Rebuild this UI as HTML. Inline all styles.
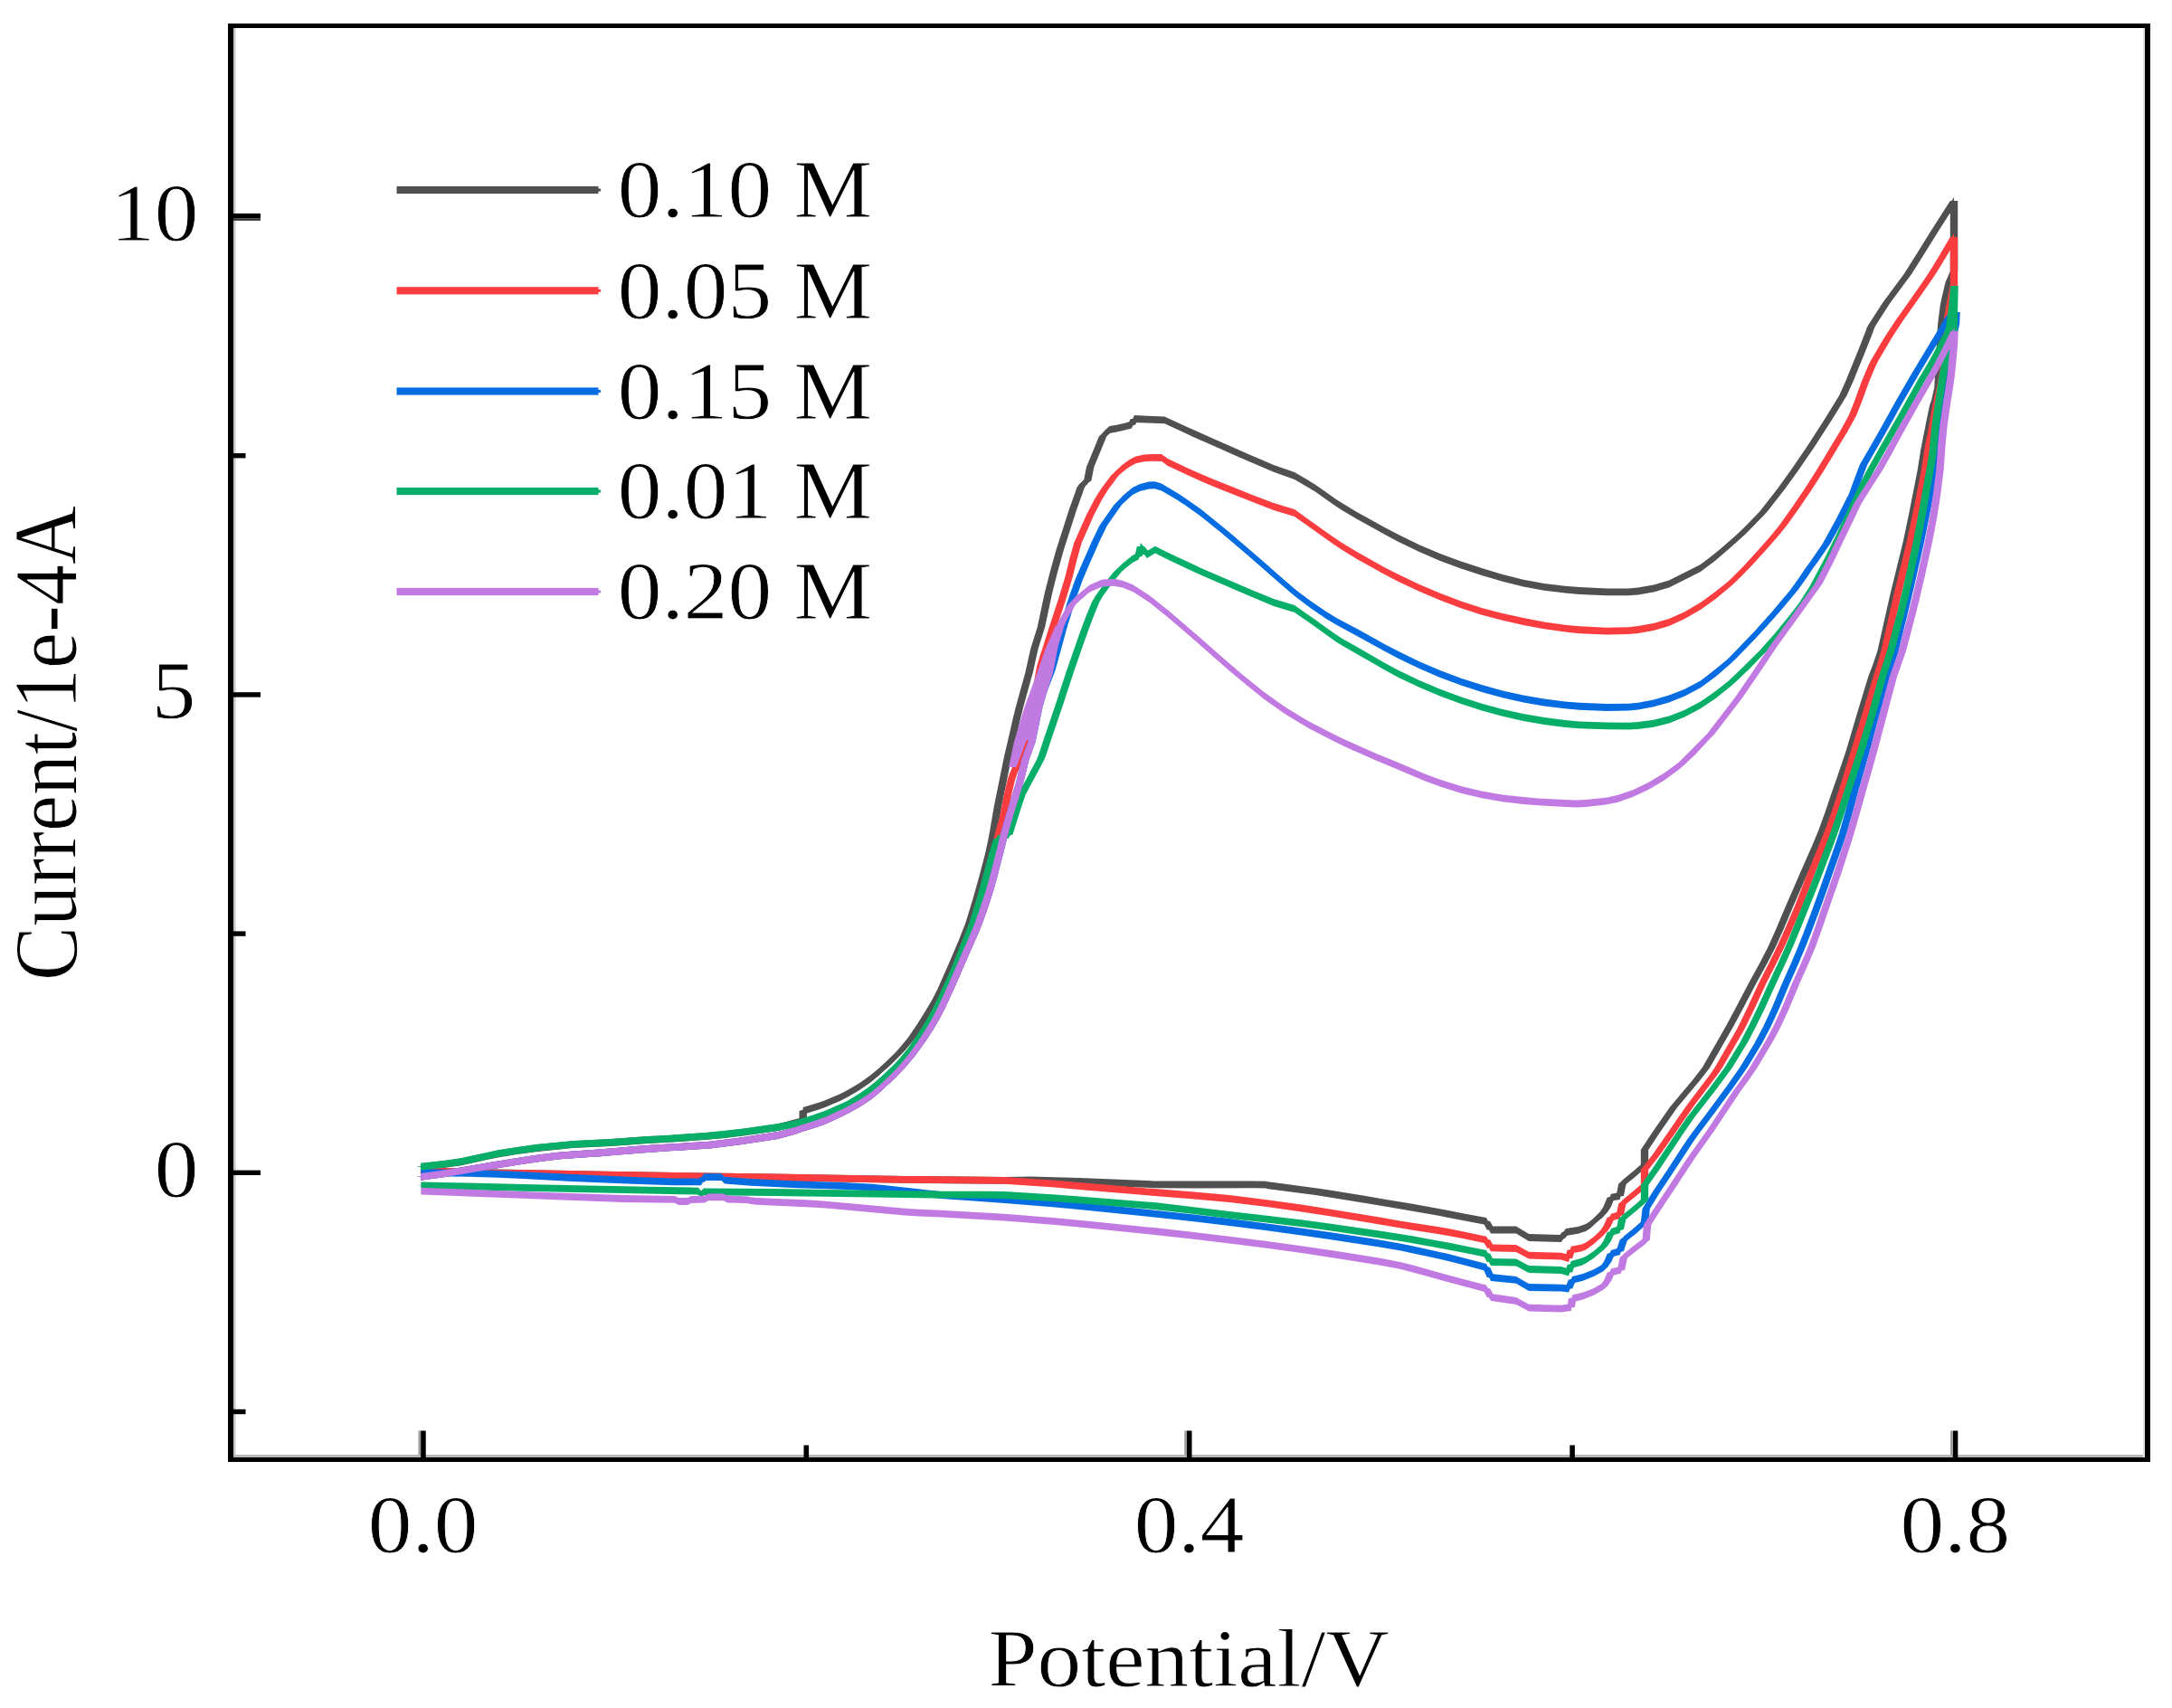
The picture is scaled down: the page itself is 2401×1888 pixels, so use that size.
<!DOCTYPE html>
<html lang="en"><head><meta charset="utf-8"><title>Cyclic voltammetry: Current/1e-4A vs Potential/V</title>
<style>html,body{margin:0;padding:0;background:#fff}body{width:2401px;height:1888px;overflow:hidden}svg{display:block;filter:blur(.6px)}text{font-family:"Liberation Serif",serif;fill:#000;stroke:#fff;stroke-width:.8px}</style></head><body>
<svg width="2401" height="1888" viewBox="0 0 2401 1888">
<rect width="2401" height="1888" fill="#fff"/>
<g fill="none" stroke-linejoin="round" stroke-linecap="round">
<g stroke="#505050">
<path transform="scale(100 1)" stroke-width="0.084" d="M4.65 1290C4.723 1289.1 4.947 1286.9 5.09 1284.5C5.232 1282.1 5.367 1278 5.505 1275.5C5.643 1273 5.782 1271 5.92 1269.3C6.058 1267.6 6.196 1266.2 6.334 1265.2C6.472 1264.2 6.61 1263.9 6.748 1263C6.886 1262.1 7.053 1260.7 7.162 1260C7.271 1259.3 7.262 1259.8 7.4 1258.8C7.538 1257.8 7.79 1256.4 7.99 1254.3C8.19 1252.2 8.452 1248.8 8.6 1246.2C8.748 1243.7 8.831 1240.2 8.877 1239L8.877 1228C8.917 1226.7 9.032 1223.5 9.115 1220.3C9.198 1217.1 9.287 1213.4 9.373 1208.7C9.459 1204 9.544 1198.7 9.63 1192C9.716 1185.3 9.813 1176.3 9.888 1168.8C9.963 1161.3 10.016 1155.6 10.08 1147C10.144 1138.4 10.22 1126.1 10.274 1117.3C10.328 1108.5 10.359 1103 10.403 1094C10.447 1085 10.488 1075.3 10.54 1063C10.592 1050.7 10.667 1033.8 10.715 1020.3C10.763 1006.8 10.793 994.6 10.83 981.7C10.867 968.8 10.908 953.7 10.934 943C10.96 932.3 10.97 925.9 10.986 917.3C11.002 908.7 11.014 900.1 11.03 891.5C11.046 882.9 11.065 874.4 11.082 865.8C11.099 857.2 11.118 847.6 11.134 840C11.15 832.4 11.157 829.7 11.18 820C11.203 810.3 11.237 794.5 11.27 781.7C11.303 768.9 11.35 753.8 11.377 743C11.405 732.2 11.413 725.3 11.435 717C11.457 708.7 11.483 703.7 11.51 693C11.537 682.3 11.561 667.3 11.596 653C11.631 638.7 11.677 621.3 11.718 607.4C11.759 593.5 11.802 580.8 11.84 569.4C11.878 558 11.916 545.4 11.946 539C11.976 532.6 12.009 532.6 12.022 531.3L12.052 516C12.065 513 12.105 503.4 12.128 497.8C12.151 492.2 12.167 486.4 12.19 482.6C12.213 478.8 12.252 476.3 12.265 475C12.285 474.6 12.346 473.6 12.387 472.7C12.428 471.8 12.489 470 12.509 469.5L12.54 463L12.874 464.4C12.925 466.8 13.056 472.9 13.18 478.5C13.304 484.1 13.47 491.4 13.62 498C13.77 504.6 13.965 513.1 14.08 517.8C14.195 522.5 14.272 524.6 14.31 526C14.348 528.3 14.463 534.7 14.54 539.7C14.617 544.7 14.693 550.8 14.77 555.8C14.847 560.8 14.885 563.3 15 569.8C15.115 576.3 15.307 587.3 15.46 595C15.613 602.7 15.767 609.8 15.92 616C16.073 622.2 16.227 627.2 16.38 632C16.533 636.8 16.687 641.4 16.84 644.7C16.993 648 17.147 650 17.3 651.6C17.453 653.2 17.625 654.1 17.76 654.4C17.895 654.7 17.993 655 18.108 653.5C18.223 652 18.335 649.8 18.45 645.5C18.565 641.2 18.68 635.8 18.798 628C18.916 620.2 19.045 608.8 19.16 598.5C19.275 588.2 19.374 579.6 19.49 566C19.606 552.4 19.754 531.6 19.858 517C19.962 502.4 20.029 491.8 20.115 478.5C20.201 465.2 20.312 448.3 20.373 437.3C20.434 426.3 20.445 420.6 20.48 412.4C20.514 404.2 20.549 395.8 20.58 388C20.611 380.2 20.648 370.4 20.668 365.5C20.688 360.6 20.669 363.6 20.7 358.5C20.731 353.4 20.79 343.9 20.855 334.6C20.92 325.3 21.004 315.6 21.09 302.8C21.176 290 21.285 271.5 21.37 258C21.455 244.5 21.562 228 21.6 222L21.6 300C21.591 302 21.564 306.7 21.547 312C21.53 317.3 21.514 324.3 21.5 332C21.486 339.7 21.476 341.9 21.463 358C21.45 374.1 21.439 413.8 21.424 428.8C21.409 443.8 21.39 440.5 21.373 448C21.356 455.5 21.337 465.3 21.32 473.9C21.303 482.5 21.284 491.9 21.27 499.6C21.256 507.3 21.27 503.5 21.238 520C21.206 536.5 21.132 574.9 21.08 598.6C21.028 622.3 20.973 641.8 20.925 662C20.878 682.2 20.833 705.7 20.795 720C20.757 734.3 20.733 736.1 20.696 747.6C20.659 759.1 20.611 775.2 20.57 789C20.528 802.8 20.493 816.3 20.447 830.6C20.401 844.9 20.346 860.1 20.295 874.8C20.244 889.5 20.198 904.3 20.14 919C20.082 933.7 20.01 949.2 19.95 963C19.89 976.8 19.84 988.2 19.78 1002C19.72 1015.8 19.659 1031.7 19.59 1046C19.521 1060.3 19.447 1072.8 19.369 1087.6C19.291 1102.4 19.205 1119.2 19.12 1134.6C19.035 1150 18.963 1165.1 18.86 1180C18.757 1194.9 18.592 1212 18.5 1224C18.408 1236 18.36 1244 18.307 1251.8C18.254 1259.6 18.201 1267.8 18.18 1271L18.18 1287.7C18.164 1289.1 18.127 1292.5 18.086 1296C18.045 1299.5 17.959 1306.4 17.934 1308.5L17.907 1322L17.81 1323.6C17.796 1326.3 17.774 1334.4 17.727 1340C17.68 1345.6 17.599 1353.3 17.53 1357C17.46 1360.7 17.347 1361.2 17.31 1362L17.257 1369L16.9 1368L16.76 1359.5L16.48 1359.5L16.43 1350C16.36 1348.7 16.148 1344.6 16.01 1342C15.872 1339.4 15.819 1338.2 15.6 1334.5C15.381 1330.8 14.963 1323.6 14.696 1319.5C14.429 1315.4 14.116 1311.6 14 1310C13.978 1309.9 14.074 1309.4 13.867 1309.3C13.66 1309.2 13.083 1309.8 12.76 1309.3C12.437 1308.8 12.16 1306.8 11.93 1306C11.7 1305.2 11.518 1304.7 11.38 1304.5C11.242 1304.3 11.335 1305 11.105 1304.9C10.875 1304.8 10.428 1304.4 10 1303.8C9.572 1303.2 9.013 1302 8.54 1301.3C8.067 1300.6 7.62 1300.2 7.16 1299.5C6.7 1298.8 6.157 1297.5 5.78 1296.8C5.403 1296 5.088 1295.4 4.9 1295C4.712 1294.6 4.692 1294.6 4.65 1294.5"/>
<path transform="scale(1 100)" stroke-width="0.078" d="M465 12.9C472.3 12.891 494.8 12.869 509 12.845C523.2 12.821 536.7 12.78 550.5 12.755C564.3 12.73 578.2 12.71 592 12.693C605.8 12.676 619.6 12.662 633.4 12.652C647.2 12.642 661 12.639 674.8 12.63C688.6 12.621 705.3 12.607 716.2 12.6C727.1 12.593 726.2 12.598 740 12.588C753.8 12.578 779 12.564 799 12.543C819 12.522 845.2 12.488 860 12.462C874.8 12.437 883.1 12.402 887.7 12.39L887.7 12.28C891.7 12.267 903.2 12.235 911.5 12.203C919.8 12.171 928.7 12.134 937.3 12.087C945.9 12.04 954.4 11.987 963 11.92C971.6 11.853 981.3 11.763 988.8 11.688C996.3 11.613 1001.6 11.556 1008 11.47C1014.4 11.384 1022 11.261 1027.4 11.173C1032.8 11.085 1035.9 11.03 1040.3 10.94C1044.7 10.85 1048.8 10.753 1054 10.63C1059.2 10.507 1066.7 10.338 1071.5 10.203C1076.3 10.068 1079.3 9.946 1083 9.817C1086.7 9.688 1090.8 9.537 1093.4 9.43C1096 9.323 1097 9.259 1098.6 9.173C1100.2 9.087 1101.4 9.001 1103 8.915C1104.6 8.829 1106.5 8.744 1108.2 8.658C1109.9 8.572 1111.8 8.476 1113.4 8.4C1115 8.324 1115.7 8.297 1118 8.2C1120.3 8.103 1123.7 7.945 1127 7.817C1130.3 7.689 1135 7.538 1137.7 7.43C1140.5 7.322 1141.3 7.253 1143.5 7.17C1145.7 7.087 1148.3 7.037 1151 6.93C1153.7 6.823 1156.1 6.673 1159.6 6.53C1163.1 6.387 1167.7 6.213 1171.8 6.074C1175.9 5.935 1180.2 5.808 1184 5.694C1187.8 5.58 1191.6 5.454 1194.6 5.39C1197.6 5.326 1200.9 5.326 1202.2 5.313L1205.2 5.16C1206.5 5.13 1210.5 5.034 1212.8 4.978C1215.1 4.922 1216.7 4.864 1219 4.826C1221.3 4.788 1225.2 4.763 1226.5 4.75C1228.5 4.746 1234.6 4.736 1238.7 4.727C1242.8 4.718 1248.9 4.7 1250.9 4.695L1254 4.63L1287.4 4.644C1292.5 4.668 1305.6 4.729 1318 4.785C1330.4 4.841 1347 4.915 1362 4.98C1377 5.046 1396.5 5.131 1408 5.178C1419.5 5.225 1427.2 5.246 1431 5.26C1434.8 5.283 1446.3 5.347 1454 5.397C1461.7 5.447 1469.3 5.508 1477 5.558C1484.7 5.608 1488.5 5.633 1500 5.698C1511.5 5.763 1530.7 5.873 1546 5.95C1561.3 6.027 1576.7 6.098 1592 6.16C1607.3 6.222 1622.7 6.272 1638 6.32C1653.3 6.368 1668.7 6.414 1684 6.447C1699.3 6.48 1714.7 6.5 1730 6.516C1745.3 6.532 1762.5 6.541 1776 6.544C1789.5 6.547 1799.3 6.55 1810.8 6.535C1822.3 6.52 1833.5 6.497 1845 6.455C1856.5 6.412 1868 6.358 1879.8 6.28C1891.6 6.202 1904.5 6.088 1916 5.985C1927.5 5.882 1937.4 5.796 1949 5.66C1960.6 5.524 1975.4 5.316 1985.8 5.17C1996.2 5.024 2002.9 4.918 2011.5 4.785C2020.1 4.652 2031.2 4.483 2037.3 4.373C2043.4 4.263 2044.5 4.206 2048 4.124C2051.4 4.042 2054.9 3.958 2058 3.88C2061.1 3.802 2064.8 3.704 2066.8 3.655C2068.8 3.606 2066.9 3.636 2070 3.585C2073.1 3.534 2079 3.439 2085.5 3.346C2092 3.253 2100.4 3.156 2109 3.028C2117.6 2.9 2128.5 2.715 2137 2.58C2145.5 2.445 2156.2 2.28 2160 2.22L2160 3C2159.1 3.02 2156.4 3.067 2154.7 3.12C2153 3.173 2151.4 3.243 2150 3.32C2148.6 3.397 2147.6 3.419 2146.3 3.58C2145 3.741 2143.9 4.138 2142.4 4.288C2140.9 4.438 2139 4.405 2137.3 4.48C2135.6 4.555 2133.7 4.653 2132 4.739C2130.3 4.825 2128.4 4.919 2127 4.996C2125.6 5.073 2127 5.035 2123.8 5.2C2120.6 5.365 2113.2 5.749 2108 5.986C2102.8 6.223 2097.2 6.418 2092.5 6.62C2087.8 6.822 2083.3 7.057 2079.5 7.2C2075.7 7.343 2073.3 7.361 2069.6 7.476C2065.8 7.591 2061.2 7.752 2057 7.89C2052.8 8.028 2049.3 8.163 2044.7 8.306C2040.1 8.449 2034.6 8.601 2029.5 8.748C2024.4 8.895 2019.8 9.043 2014 9.19C2008.2 9.337 2001 9.492 1995 9.63C1989 9.768 1984 9.882 1978 10.02C1972 10.158 1965.8 10.317 1959 10.46C1952.2 10.603 1944.7 10.728 1936.9 10.876C1929.1 11.024 1920.5 11.192 1912 11.346C1903.5 11.5 1896.3 11.651 1886 11.8C1875.7 11.949 1859.2 12.12 1850 12.24C1840.8 12.36 1836 12.44 1830.7 12.518C1825.4 12.596 1820.1 12.678 1818 12.71L1818 12.877C1816.4 12.891 1812.7 12.925 1808.6 12.96C1804.5 12.995 1795.9 13.064 1793.4 13.085L1790.7 13.22L1781 13.236C1779.6 13.263 1777.4 13.344 1772.7 13.4C1768 13.456 1760 13.533 1753 13.57C1746 13.607 1734.7 13.612 1731 13.62L1725.7 13.69L1690 13.68L1676 13.595L1648 13.595L1643 13.5C1636 13.487 1614.8 13.446 1601 13.42C1587.2 13.394 1581.9 13.383 1560 13.345C1538.1 13.307 1496.3 13.236 1469.6 13.195C1442.9 13.154 1411.6 13.116 1400 13.1C1397.8 13.099 1407.4 13.094 1386.7 13.093C1366 13.092 1308.3 13.098 1276 13.093C1243.7 13.088 1216 13.068 1193 13.06C1170 13.052 1151.8 13.047 1138 13.045C1124.2 13.043 1133.5 13.05 1110.5 13.049C1087.5 13.048 1042.8 13.044 1000 13.038C957.2 13.032 901.3 13.02 854 13.013C806.7 13.006 762 13.002 716 12.995C670 12.988 615.7 12.976 578 12.968C540.3 12.96 508.8 12.954 490 12.95C471.2 12.946 469.2 12.946 465 12.945"/>
</g>
<g stroke="#fb3d3f">
<path transform="scale(100 1)" stroke-width="0.084" d="M4.65 1300.8C4.7 1300.1 4.832 1298.4 4.952 1296.6C5.071 1294.8 5.229 1292 5.367 1289.7C5.505 1287.4 5.643 1284.9 5.781 1282.8C5.919 1280.7 6.058 1278.7 6.196 1277.3C6.334 1275.9 6.472 1275.5 6.61 1274.5C6.748 1273.5 6.892 1272 7.024 1271C7.156 1270 7.262 1269.2 7.4 1268.3C7.538 1267.4 7.65 1267.8 7.85 1265.6C8.05 1263.4 8.432 1258 8.6 1255C8.768 1252 8.772 1250.1 8.858 1247.4C8.944 1244.7 9.029 1242.4 9.115 1239C9.201 1235.6 9.287 1231.4 9.373 1226.8C9.459 1222.2 9.544 1217.8 9.63 1211.3C9.716 1204.8 9.813 1195.5 9.888 1188C9.963 1180.5 10.016 1174.5 10.08 1166.2C10.144 1157.9 10.22 1146.5 10.274 1137.9C10.328 1129.3 10.36 1123.3 10.403 1114.7C10.446 1106.1 10.489 1096 10.532 1086.4C10.575 1076.8 10.612 1068 10.66 1057C10.708 1046 10.77 1032.8 10.818 1020.3C10.866 1007.8 10.918 992.6 10.947 981.7C10.976 970.8 10.975 964.9 10.99 955C11.005 945.1 11.021 930.8 11.037 922.4C11.054 914 11.072 911.7 11.089 904.4C11.106 897.1 11.124 886 11.14 878.6C11.156 871.2 11.167 865.8 11.185 860C11.203 854.2 11.225 850.7 11.25 843.7C11.275 836.7 11.311 827 11.338 818C11.365 809 11.383 803.3 11.41 790C11.437 776.7 11.474 750.2 11.5 738C11.526 725.8 11.541 724.8 11.565 717C11.589 709.2 11.617 700 11.645 691.5C11.672 683 11.702 674.7 11.73 665.8C11.758 656.9 11.784 649 11.815 638C11.846 627 11.875 611.5 11.915 600C11.955 588.5 12.009 577.9 12.052 569C12.095 560.1 12.128 553.8 12.174 546.5C12.22 539.2 12.273 531 12.326 525.2C12.379 519.4 12.441 514.6 12.494 511.5C12.547 508.4 12.588 507.2 12.646 506.3C12.704 505.4 12.811 506.1 12.844 506C12.855 506.8 12.838 507.3 12.91 511C12.982 514.7 13.16 522.8 13.278 528C13.396 533.2 13.486 536.7 13.62 542C13.754 547.3 13.965 555.8 14.08 560C14.195 564.2 14.272 565.8 14.31 567C14.348 569.7 14.463 578 14.54 583.4C14.617 588.8 14.693 594.5 14.77 599.6C14.847 604.7 14.885 607.4 15 614C15.115 620.6 15.307 631.4 15.46 639C15.613 646.6 15.767 653.6 15.92 659.7C16.073 665.8 16.227 671.2 16.38 675.8C16.533 680.3 16.687 683.9 16.84 687C16.993 690.1 17.147 692.9 17.3 694.7C17.453 696.5 17.625 697.5 17.76 697.7C17.895 697.9 17.993 697.6 18.108 696C18.223 694.4 18.335 692.3 18.45 688C18.565 683.7 18.683 677.4 18.798 670C18.913 662.6 19.025 654.1 19.14 643.6C19.255 633.1 19.394 617.4 19.49 606.8C19.586 596.2 19.644 589.4 19.716 580C19.788 570.6 19.855 560.4 19.922 550.6C19.989 540.8 20.051 531.3 20.115 521C20.179 510.7 20.247 499.3 20.308 489C20.369 478.7 20.428 470.2 20.48 459C20.532 447.8 20.579 431.8 20.62 421.7C20.661 411.6 20.685 405.9 20.724 398.3C20.763 390.7 20.81 383.3 20.855 376C20.9 368.7 20.949 361.2 20.996 354.3C21.043 347.4 21.073 343.7 21.136 334.6C21.199 325.6 21.296 312.1 21.373 300C21.45 287.9 21.562 268.3 21.6 262L21.6 316C21.595 318.3 21.581 324.3 21.57 330C21.559 335.7 21.548 337.3 21.535 350C21.522 362.7 21.505 392.7 21.49 406C21.475 419.3 21.459 423 21.445 430C21.431 437 21.419 440.7 21.405 448C21.391 455.3 21.374 466.4 21.36 473.9C21.346 481.4 21.333 485.3 21.32 493C21.307 500.7 21.313 502.4 21.28 520C21.247 537.6 21.172 574.9 21.12 598.6C21.067 622.3 21.013 641.8 20.965 662C20.917 682.2 20.87 705.7 20.834 720C20.798 734.3 20.784 736.1 20.75 747.6C20.716 759.1 20.669 775.2 20.627 789C20.585 802.8 20.544 816.3 20.5 830.6C20.456 844.9 20.412 860.1 20.364 874.8C20.316 889.5 20.266 904.3 20.21 919C20.154 933.7 20.085 949.2 20.03 963C19.975 976.8 19.937 988.2 19.88 1002C19.823 1015.8 19.754 1031.7 19.687 1046C19.62 1060.3 19.552 1072.8 19.48 1087.6C19.409 1102.4 19.338 1119.2 19.258 1134.6C19.178 1150 19.093 1165.5 18.998 1180C18.903 1194.5 18.773 1209.9 18.69 1221.4C18.607 1232.9 18.564 1239.8 18.5 1249C18.436 1258.2 18.36 1269.4 18.307 1276.7C18.254 1284 18.201 1290.3 18.18 1293L18.18 1310C18.164 1311.3 18.127 1314.6 18.086 1318C18.045 1321.4 17.959 1328.5 17.934 1330.6L17.907 1343L17.81 1345.7C17.796 1348.2 17.774 1355.7 17.727 1361C17.68 1366.3 17.59 1374 17.53 1377.5C17.47 1381 17.395 1381 17.368 1381.7L17.34 1391L17.257 1388.6L16.9 1387.7L16.76 1380L16.48 1379.4L16.43 1370.6C16.36 1369.2 16.148 1364.5 16.01 1362C15.872 1359.5 15.727 1357.6 15.6 1355.5C15.473 1353.4 15.447 1352.8 15.25 1349.5C15.053 1346.2 14.697 1340.1 14.42 1336C14.143 1331.9 13.867 1328 13.59 1325C13.313 1322 13.037 1320.3 12.76 1318C12.483 1315.7 12.206 1313.2 11.93 1311C11.654 1308.8 11.427 1306.1 11.105 1304.9C10.783 1303.7 10.428 1304.4 10 1303.8C9.572 1303.2 9.013 1302 8.54 1301.3C8.067 1300.6 7.62 1300.2 7.16 1299.5C6.7 1298.8 6.157 1297.5 5.78 1296.8C5.403 1296 5.088 1295.4 4.9 1295C4.712 1294.6 4.692 1294.6 4.65 1294.5"/>
<path transform="scale(1 100)" stroke-width="0.078" d="M465 13.008C470 13.001 483.2 12.984 495.2 12.966C507.1 12.947 522.9 12.92 536.7 12.897C550.5 12.874 564.3 12.849 578.1 12.828C591.9 12.807 605.8 12.787 619.6 12.773C633.4 12.759 647.2 12.755 661 12.745C674.8 12.735 689.2 12.72 702.4 12.71C715.6 12.7 726.2 12.692 740 12.683C753.8 12.674 765 12.678 785 12.656C805 12.634 843.2 12.58 860 12.55C876.8 12.52 877.2 12.501 885.8 12.474C894.4 12.447 902.9 12.424 911.5 12.39C920.1 12.356 928.7 12.314 937.3 12.268C945.9 12.222 954.4 12.178 963 12.113C971.6 12.048 981.3 11.955 988.8 11.88C996.3 11.805 1001.6 11.745 1008 11.662C1014.4 11.579 1022 11.465 1027.4 11.379C1032.8 11.293 1036 11.233 1040.3 11.147C1044.6 11.061 1048.9 10.96 1053.2 10.864C1057.5 10.768 1061.2 10.68 1066 10.57C1070.8 10.46 1077 10.328 1081.8 10.203C1086.6 10.078 1091.8 9.926 1094.7 9.817C1097.6 9.708 1097.5 9.649 1099 9.55C1100.5 9.451 1102 9.308 1103.7 9.224C1105.4 9.14 1107.2 9.117 1108.9 9.044C1110.6 8.971 1112.4 8.86 1114 8.786C1115.6 8.712 1116.7 8.658 1118.5 8.6C1120.3 8.542 1122.5 8.507 1125 8.437C1127.5 8.367 1131.1 8.27 1133.8 8.18C1136.5 8.09 1138.3 8.033 1141 7.9C1143.7 7.767 1147.4 7.502 1150 7.38C1152.6 7.258 1154.1 7.247 1156.5 7.17C1158.9 7.093 1161.8 7 1164.5 6.915C1167.2 6.83 1170.2 6.747 1173 6.658C1175.8 6.569 1178.4 6.49 1181.5 6.38C1184.6 6.27 1187.5 6.115 1191.5 6C1195.5 5.885 1200.9 5.779 1205.2 5.69C1209.5 5.601 1212.8 5.538 1217.4 5.465C1222 5.392 1227.3 5.31 1232.6 5.252C1237.9 5.194 1244.1 5.146 1249.4 5.115C1254.7 5.083 1258.8 5.072 1264.6 5.063C1270.4 5.054 1281.1 5.061 1284.4 5.06C1285.5 5.068 1283.8 5.073 1291 5.11C1298.2 5.147 1316 5.228 1327.8 5.28C1339.6 5.332 1348.6 5.367 1362 5.42C1375.4 5.473 1396.5 5.558 1408 5.6C1419.5 5.642 1427.2 5.658 1431 5.67C1434.8 5.697 1446.3 5.78 1454 5.834C1461.7 5.888 1469.3 5.945 1477 5.996C1484.7 6.047 1488.5 6.074 1500 6.14C1511.5 6.206 1530.7 6.314 1546 6.39C1561.3 6.466 1576.7 6.536 1592 6.597C1607.3 6.658 1622.7 6.713 1638 6.758C1653.3 6.803 1668.7 6.838 1684 6.87C1699.3 6.901 1714.7 6.929 1730 6.947C1745.3 6.965 1762.5 6.975 1776 6.977C1789.5 6.979 1799.3 6.976 1810.8 6.96C1822.3 6.944 1833.5 6.923 1845 6.88C1856.5 6.837 1868.3 6.774 1879.8 6.7C1891.3 6.626 1902.5 6.541 1914 6.436C1925.5 6.331 1939.4 6.174 1949 6.068C1958.6 5.962 1964.4 5.894 1971.6 5.8C1978.8 5.706 1985.5 5.604 1992.2 5.506C1998.9 5.408 2005.1 5.313 2011.5 5.21C2017.9 5.107 2024.7 4.993 2030.8 4.89C2036.9 4.787 2042.8 4.702 2048 4.59C2053.2 4.478 2057.9 4.318 2062 4.217C2066.1 4.116 2068.5 4.059 2072.4 3.983C2076.3 3.907 2081 3.833 2085.5 3.76C2090 3.687 2094.9 3.612 2099.6 3.543C2104.3 3.474 2107.3 3.437 2113.6 3.346C2119.9 3.256 2129.6 3.121 2137.3 3C2145 2.879 2156.2 2.683 2160 2.62L2160 3.16C2159.5 3.183 2158.1 3.243 2157 3.3C2155.9 3.357 2154.8 3.373 2153.5 3.5C2152.2 3.627 2150.5 3.927 2149 4.06C2147.5 4.193 2145.9 4.23 2144.5 4.3C2143.1 4.37 2141.9 4.407 2140.5 4.48C2139.1 4.553 2137.4 4.664 2136 4.739C2134.6 4.814 2133.3 4.853 2132 4.93C2130.7 5.007 2131.3 5.024 2128 5.2C2124.7 5.376 2117.2 5.749 2112 5.986C2106.8 6.223 2101.3 6.418 2096.5 6.62C2091.7 6.822 2087 7.057 2083.4 7.2C2079.8 7.343 2078.4 7.361 2075 7.476C2071.6 7.591 2066.9 7.752 2062.7 7.89C2058.5 8.028 2054.4 8.163 2050 8.306C2045.6 8.449 2041.2 8.601 2036.4 8.748C2031.6 8.895 2026.6 9.043 2021 9.19C2015.4 9.337 2008.5 9.492 2003 9.63C1997.5 9.768 1993.7 9.882 1988 10.02C1982.3 10.158 1975.4 10.317 1968.7 10.46C1962 10.603 1955.2 10.728 1948 10.876C1940.8 11.024 1933.8 11.192 1925.8 11.346C1917.8 11.5 1909.3 11.655 1899.8 11.8C1890.3 11.945 1877.3 12.099 1869 12.214C1860.7 12.329 1856.4 12.398 1850 12.49C1843.6 12.582 1836 12.694 1830.7 12.767C1825.4 12.84 1820.1 12.903 1818 12.93L1818 13.1C1816.4 13.113 1812.7 13.146 1808.6 13.18C1804.5 13.214 1795.9 13.285 1793.4 13.306L1790.7 13.43L1781 13.457C1779.6 13.482 1777.4 13.557 1772.7 13.61C1768 13.663 1759 13.74 1753 13.775C1747 13.809 1739.5 13.81 1736.8 13.817L1734 13.91L1725.7 13.886L1690 13.877L1676 13.8L1648 13.794L1643 13.706C1636 13.692 1614.8 13.645 1601 13.62C1587.2 13.595 1572.7 13.576 1560 13.555C1547.3 13.534 1544.7 13.527 1525 13.495C1505.3 13.463 1469.7 13.401 1442 13.36C1414.3 13.319 1386.7 13.28 1359 13.25C1331.3 13.22 1303.7 13.203 1276 13.18C1248.3 13.157 1220.6 13.132 1193 13.11C1165.4 13.088 1142.7 13.061 1110.5 13.049C1078.3 13.037 1042.8 13.044 1000 13.038C957.2 13.032 901.3 13.02 854 13.013C806.7 13.006 762 13.002 716 12.995C670 12.988 615.7 12.976 578 12.968C540.3 12.96 508.8 12.954 490 12.95C471.2 12.946 469.2 12.946 465 12.945"/>
</g>
<g stroke="#056ce1">
<path transform="scale(100 1)" stroke-width="0.084" d="M4.65 1300.8C4.7 1300.1 4.832 1298.4 4.952 1296.6C5.071 1294.8 5.229 1292 5.367 1289.7C5.505 1287.4 5.643 1284.9 5.781 1282.8C5.919 1280.7 6.058 1278.7 6.196 1277.3C6.334 1275.9 6.472 1275.5 6.61 1274.5C6.748 1273.5 6.892 1272 7.024 1271C7.156 1270 7.262 1269.2 7.4 1268.3C7.538 1267.4 7.65 1267.8 7.85 1265.6C8.05 1263.4 8.432 1258 8.6 1255C8.768 1252 8.772 1250.1 8.858 1247.4C8.944 1244.7 9.029 1242.4 9.115 1239C9.201 1235.6 9.287 1231.4 9.373 1226.8C9.459 1222.2 9.544 1217.8 9.63 1211.3C9.716 1204.8 9.813 1195.5 9.888 1188C9.963 1180.5 10.016 1174.5 10.08 1166.2C10.144 1157.9 10.22 1146.5 10.274 1137.9C10.328 1129.3 10.36 1123.3 10.403 1114.7C10.446 1106.1 10.489 1096 10.532 1086.4C10.575 1076.8 10.612 1068 10.66 1057C10.708 1046 10.77 1032.8 10.818 1020.3C10.866 1007.8 10.908 994.6 10.947 981.7C10.986 968.8 11.022 953.7 11.05 943C11.078 932.3 11.091 925.9 11.114 917.3C11.137 908.7 11.164 900.1 11.19 891.5C11.216 882.9 11.246 874.4 11.27 865.8C11.294 857.2 11.31 847.6 11.333 840C11.355 832.4 11.38 829.7 11.405 820C11.43 810.3 11.459 791.7 11.483 781.7C11.507 771.7 11.526 766.9 11.55 760C11.574 753.1 11.602 747.7 11.625 740.5C11.648 733.3 11.668 725.2 11.69 717C11.713 708.8 11.735 700 11.76 691.5C11.785 683 11.812 674.4 11.84 665.8C11.868 657.2 11.894 649.1 11.93 640C11.966 630.9 12.013 620.8 12.057 611C12.101 601.2 12.146 589.8 12.196 581C12.246 572.2 12.303 564.3 12.357 558C12.411 551.7 12.461 546.6 12.518 543C12.575 539.4 12.646 537.2 12.7 536.5C12.754 535.8 12.782 536.1 12.84 538.5C12.898 540.9 12.974 546.2 13.047 551C13.12 555.8 13.182 559.7 13.278 567C13.373 574.3 13.505 585.3 13.62 595C13.735 604.7 13.853 615 13.968 625C14.083 635 14.195 645.6 14.31 654.8C14.425 664 14.545 672.6 14.66 680C14.775 687.4 14.867 691.7 15 699C15.133 706.3 15.307 716.3 15.46 724C15.613 731.7 15.767 738.8 15.92 745C16.073 751.2 16.227 756.4 16.38 761C16.533 765.6 16.687 769.4 16.84 772.5C16.993 775.6 17.147 777.8 17.3 779.4C17.453 781 17.625 781.8 17.76 782C17.895 782.2 17.993 782.2 18.108 780.6C18.223 779 18.335 776.5 18.45 772.5C18.565 768.5 18.683 763.7 18.798 756.4C18.913 749.1 19.025 739.5 19.14 728.8C19.255 718.1 19.374 704.8 19.49 692C19.606 679.2 19.749 662.7 19.834 652C19.919 641.3 19.941 636.5 20 628C20.059 619.5 20.11 614.7 20.19 601C20.27 587.3 20.412 560.5 20.48 546C20.548 531.5 20.548 524.8 20.6 513.8C20.652 502.8 20.729 491.7 20.793 480.3C20.857 468.9 20.922 456.9 20.986 445.5C21.05 434.1 21.116 422.9 21.18 412C21.244 401.1 21.324 388.2 21.373 380C21.422 371.8 21.447 368 21.476 363C21.505 358 21.525 353 21.55 350C21.575 347 21.613 345.8 21.625 345L21.62 358C21.608 363.6 21.567 378.7 21.547 391.4C21.527 404.1 21.514 420.6 21.5 434C21.486 447.4 21.476 459.2 21.46 471.5C21.444 483.8 21.443 486.8 21.405 508C21.367 529.2 21.283 572.9 21.23 598.6C21.177 624.3 21.133 641.8 21.085 662C21.037 682.2 20.982 705.7 20.944 720C20.907 734.3 20.894 736.1 20.86 747.6C20.826 759.1 20.776 775.2 20.737 789C20.698 802.8 20.666 816.3 20.627 830.6C20.587 844.9 20.541 860.1 20.5 874.8C20.459 889.5 20.424 904.3 20.378 919C20.332 933.7 20.274 949.2 20.226 963C20.178 976.8 20.139 988.2 20.088 1002C20.037 1015.8 19.978 1031.7 19.92 1046C19.862 1060.3 19.804 1072.8 19.74 1087.6C19.676 1102.4 19.613 1119.2 19.535 1134.6C19.457 1150 19.377 1164.2 19.274 1180C19.171 1195.8 19.012 1216.4 18.915 1229.7C18.818 1243 18.759 1250.1 18.69 1260C18.621 1269.9 18.564 1279.3 18.5 1289C18.436 1298.7 18.358 1310.2 18.307 1318C18.257 1325.8 18.215 1333 18.197 1336L18.18 1351C18.164 1352.4 18.125 1356.2 18.086 1359.5C18.047 1362.8 17.971 1368.8 17.948 1370.6L17.907 1383L17.81 1385.8C17.796 1388.3 17.774 1396.8 17.727 1401C17.68 1405.2 17.588 1408.4 17.53 1410.7C17.472 1413 17.405 1414.1 17.38 1414.8L17.34 1424.5L17.257 1423.6L16.9 1423L16.76 1414.8L16.48 1412L16.43 1401C16.36 1399.2 16.148 1393.3 16.01 1390C15.872 1386.7 15.727 1383.6 15.6 1381C15.473 1378.4 15.447 1377.7 15.25 1374.5C15.053 1371.3 14.697 1365.9 14.42 1362C14.143 1358.1 13.867 1354.4 13.59 1351C13.313 1347.6 13.037 1344.6 12.76 1341.6C12.483 1338.6 12.206 1335.6 11.93 1333C11.654 1330.4 11.36 1328 11.105 1326C10.85 1324 10.643 1323.2 10.4 1321C10.158 1318.8 9.913 1314.5 9.65 1312.6C9.387 1310.6 9.045 1310.3 8.82 1309.3C8.595 1308.3 8.435 1307.6 8.3 1306.8C8.165 1306 8.058 1305 8.01 1304.6L7.975 1301.2L7.78 1301.2L7.75 1306.4C7.698 1306.4 7.565 1306.7 7.44 1306.4C7.315 1306.1 7.185 1305.5 7 1304.8C6.815 1304.1 6.579 1303.2 6.33 1302C6.081 1300.8 5.784 1298.8 5.505 1297.8C5.226 1296.8 4.796 1296.3 4.654 1296"/>
<path transform="scale(1 100)" stroke-width="0.078" d="M465 13.008C470 13.001 483.2 12.984 495.2 12.966C507.1 12.947 522.9 12.92 536.7 12.897C550.5 12.874 564.3 12.849 578.1 12.828C591.9 12.807 605.8 12.787 619.6 12.773C633.4 12.759 647.2 12.755 661 12.745C674.8 12.735 689.2 12.72 702.4 12.71C715.6 12.7 726.2 12.692 740 12.683C753.8 12.674 765 12.678 785 12.656C805 12.634 843.2 12.58 860 12.55C876.8 12.52 877.2 12.501 885.8 12.474C894.4 12.447 902.9 12.424 911.5 12.39C920.1 12.356 928.7 12.314 937.3 12.268C945.9 12.222 954.4 12.178 963 12.113C971.6 12.048 981.3 11.955 988.8 11.88C996.3 11.805 1001.6 11.745 1008 11.662C1014.4 11.579 1022 11.465 1027.4 11.379C1032.8 11.293 1036 11.233 1040.3 11.147C1044.6 11.061 1048.9 10.96 1053.2 10.864C1057.5 10.768 1061.2 10.68 1066 10.57C1070.8 10.46 1077 10.328 1081.8 10.203C1086.6 10.078 1090.8 9.946 1094.7 9.817C1098.6 9.688 1102.2 9.537 1105 9.43C1107.8 9.323 1109.1 9.259 1111.4 9.173C1113.7 9.087 1116.4 9.001 1119 8.915C1121.6 8.829 1124.6 8.744 1127 8.658C1129.4 8.572 1131 8.476 1133.3 8.4C1135.5 8.324 1138 8.297 1140.5 8.2C1143 8.103 1145.9 7.917 1148.3 7.817C1150.7 7.717 1152.6 7.669 1155 7.6C1157.4 7.531 1160.2 7.477 1162.5 7.405C1164.8 7.333 1166.8 7.252 1169 7.17C1171.2 7.088 1173.5 7 1176 6.915C1178.5 6.83 1181.2 6.744 1184 6.658C1186.8 6.572 1189.4 6.491 1193 6.4C1196.6 6.309 1201.3 6.208 1205.7 6.11C1210.1 6.012 1214.6 5.898 1219.6 5.81C1224.6 5.722 1230.3 5.643 1235.7 5.58C1241.1 5.517 1246.1 5.466 1251.8 5.43C1257.5 5.394 1264.6 5.372 1270 5.365C1275.4 5.357 1278.2 5.361 1284 5.385C1289.8 5.409 1297.4 5.463 1304.7 5.51C1312 5.558 1318.2 5.597 1327.8 5.67C1337.3 5.743 1350.5 5.853 1362 5.95C1373.5 6.047 1385.3 6.15 1396.8 6.25C1408.3 6.35 1419.5 6.456 1431 6.548C1442.5 6.64 1454.5 6.726 1466 6.8C1477.5 6.874 1486.7 6.917 1500 6.99C1513.3 7.063 1530.7 7.163 1546 7.24C1561.3 7.317 1576.7 7.388 1592 7.45C1607.3 7.512 1622.7 7.564 1638 7.61C1653.3 7.656 1668.7 7.694 1684 7.725C1699.3 7.756 1714.7 7.778 1730 7.794C1745.3 7.81 1762.5 7.818 1776 7.82C1789.5 7.822 1799.3 7.822 1810.8 7.806C1822.3 7.79 1833.5 7.765 1845 7.725C1856.5 7.685 1868.3 7.637 1879.8 7.564C1891.3 7.491 1902.5 7.395 1914 7.288C1925.5 7.181 1937.4 7.048 1949 6.92C1960.6 6.792 1974.9 6.627 1983.4 6.52C1991.9 6.413 1994.1 6.365 2000 6.28C2005.9 6.195 2011 6.147 2019 6.01C2027 5.873 2041.2 5.605 2048 5.46C2054.8 5.315 2054.8 5.247 2060 5.138C2065.2 5.028 2072.9 4.917 2079.3 4.803C2085.7 4.689 2092.2 4.569 2098.6 4.455C2105 4.341 2111.6 4.229 2118 4.12C2124.4 4.011 2132.4 3.882 2137.3 3.8C2142.2 3.718 2144.7 3.68 2147.6 3.63C2150.5 3.58 2152.5 3.53 2155 3.5C2157.5 3.47 2161.2 3.458 2162.5 3.45L2162 3.58C2160.8 3.636 2156.7 3.787 2154.7 3.914C2152.7 4.041 2151.4 4.207 2150 4.34C2148.6 4.474 2147.6 4.592 2146 4.715C2144.4 4.838 2144.3 4.868 2140.5 5.08C2136.7 5.292 2128.3 5.729 2123 5.986C2117.7 6.243 2113.3 6.418 2108.5 6.62C2103.7 6.822 2098.2 7.057 2094.4 7.2C2090.7 7.343 2089.4 7.361 2086 7.476C2082.6 7.591 2077.6 7.752 2073.7 7.89C2069.8 8.028 2066.6 8.163 2062.7 8.306C2058.8 8.449 2054.2 8.601 2050 8.748C2045.8 8.895 2042.4 9.043 2037.8 9.19C2033.2 9.337 2027.4 9.492 2022.6 9.63C2017.8 9.768 2013.9 9.882 2008.8 10.02C2003.7 10.158 1997.8 10.317 1992 10.46C1986.2 10.603 1980.4 10.728 1974 10.876C1967.6 11.024 1961.3 11.192 1953.5 11.346C1945.7 11.5 1937.7 11.642 1927.4 11.8C1917.1 11.958 1901.2 12.164 1891.5 12.297C1881.8 12.43 1875.9 12.501 1869 12.6C1862.1 12.699 1856.4 12.793 1850 12.89C1843.6 12.987 1835.8 13.102 1830.7 13.18C1825.7 13.258 1821.5 13.33 1819.7 13.36L1818 13.51C1816.4 13.524 1812.5 13.562 1808.6 13.595C1804.7 13.628 1797.1 13.688 1794.8 13.706L1790.7 13.83L1781 13.858C1779.6 13.883 1777.4 13.968 1772.7 14.01C1768 14.052 1758.8 14.084 1753 14.107C1747.2 14.13 1740.5 14.141 1738 14.148L1734 14.245L1725.7 14.236L1690 14.23L1676 14.148L1648 14.12L1643 14.01C1636 13.992 1614.8 13.933 1601 13.9C1587.2 13.867 1572.7 13.836 1560 13.81C1547.3 13.784 1544.7 13.777 1525 13.745C1505.3 13.713 1469.7 13.659 1442 13.62C1414.3 13.581 1386.7 13.544 1359 13.51C1331.3 13.476 1303.7 13.446 1276 13.416C1248.3 13.386 1220.6 13.356 1193 13.33C1165.4 13.304 1136 13.28 1110.5 13.26C1085 13.24 1064.2 13.232 1040 13.21C1015.8 13.188 991.3 13.146 965 13.126C938.7 13.106 904.5 13.103 882 13.093C859.5 13.083 843.5 13.076 830 13.068C816.5 13.06 805.8 13.05 801 13.046L797.5 13.012L778 13.012L775 13.064C769.8 13.064 756.5 13.067 744 13.064C731.5 13.061 718.5 13.055 700 13.048C681.5 13.041 657.9 13.032 633 13.02C608.1 13.008 578.4 12.988 550.5 12.978C522.6 12.968 479.6 12.963 465.4 12.96"/>
</g>
<g stroke="#07ae68">
<path transform="scale(100 1)" stroke-width="0.084" d="M4.65 1289.7C4.723 1288.8 4.947 1286.6 5.09 1284.2C5.232 1281.8 5.367 1277.7 5.505 1275.2C5.643 1272.7 5.782 1270.7 5.92 1269C6.058 1267.3 6.196 1265.9 6.334 1264.9C6.472 1263.9 6.61 1263.7 6.748 1262.8C6.886 1261.9 7.053 1260.5 7.162 1259.8C7.271 1259.1 7.262 1259.6 7.4 1258.6C7.538 1257.6 7.79 1256.1 7.99 1254C8.19 1251.9 8.455 1248.3 8.6 1246C8.745 1243.7 8.772 1242.6 8.858 1240.3C8.944 1238 9.029 1235.3 9.115 1232C9.201 1228.7 9.287 1225 9.373 1220.3C9.459 1215.6 9.544 1210.2 9.63 1203.6C9.716 1196.9 9.813 1187.9 9.888 1180.4C9.963 1172.9 10.016 1167.1 10.08 1158.5C10.144 1149.9 10.22 1137.9 10.274 1128.9C10.328 1119.9 10.36 1113.2 10.403 1104.4C10.446 1095.6 10.489 1086.1 10.532 1076C10.575 1065.9 10.623 1053.2 10.66 1043.9C10.697 1034.6 10.72 1030.7 10.755 1020.3C10.79 1009.9 10.833 994.6 10.87 981.7C10.907 968.8 10.948 952 10.974 943C11 934 11.016 930.2 11.024 927.6L11.153 922.4C11.164 919 11.194 909.1 11.218 901.8C11.242 894.5 11.265 885.7 11.295 878.6C11.325 871.5 11.364 865.7 11.398 859.3C11.432 852.9 11.471 846.5 11.5 840C11.529 833.5 11.537 829.7 11.57 820C11.603 810.3 11.657 794.5 11.7 781.7C11.743 768.9 11.791 753.8 11.827 743C11.863 732.2 11.887 725.6 11.917 717C11.947 708.4 11.976 700 12.008 691.5C12.04 683 12.079 672.3 12.11 665.8C12.141 659.3 12.155 658.2 12.196 652.5C12.237 646.8 12.303 637.5 12.357 631.8C12.411 626 12.48 620.9 12.518 618C12.556 615.1 12.575 615.1 12.587 614.5L12.61 604L12.68 613L12.77 607.6C12.797 609 12.845 611.7 12.93 615.7C13.015 619.7 13.163 626.6 13.278 631.8C13.393 637 13.486 641 13.62 646.7C13.754 652.4 13.965 661.6 14.08 666C14.195 670.4 14.272 671.8 14.31 673C14.348 675.7 14.463 683.6 14.54 689C14.617 694.4 14.693 700.5 14.77 705.5C14.847 710.5 14.885 712.4 15 719C15.115 725.6 15.307 737.2 15.46 745C15.613 752.8 15.767 759.5 15.92 765.6C16.073 771.7 16.227 777.1 16.38 781.7C16.533 786.3 16.687 790 16.84 793C16.993 796 17.147 798.4 17.3 800C17.453 801.6 17.625 802.1 17.76 802.4C17.895 802.7 17.993 803.1 18.108 802C18.223 800.9 18.335 799.3 18.45 795.5C18.565 791.7 18.683 786.3 18.798 779.4C18.913 772.5 19.025 764 19.14 754C19.255 744 19.374 732.1 19.49 719.6C19.606 707.1 19.741 690.9 19.834 679C19.927 667.1 19.964 662.5 20.048 648C20.132 633.5 20.254 608.7 20.336 592C20.418 575.3 20.481 560 20.538 548C20.595 536 20.624 530 20.677 520C20.73 510 20.796 498.9 20.858 488C20.92 477.1 20.986 466 21.05 454.6C21.114 443.2 21.19 429.2 21.244 419.8C21.298 410.4 21.33 405.7 21.373 398C21.416 390.3 21.47 379.4 21.5 373.4C21.53 367.4 21.536 371.4 21.553 361.8C21.571 352.2 21.596 323.6 21.605 316L21.595 365C21.582 370 21.54 386.5 21.52 395C21.5 403.5 21.49 408.2 21.476 416C21.462 423.8 21.45 433.1 21.437 441.7C21.424 450.3 21.41 458.8 21.399 467.4C21.388 475.9 21.382 485.5 21.373 493C21.364 500.5 21.378 494.9 21.347 512.5C21.316 530.1 21.239 573.7 21.19 598.6C21.141 623.5 21.098 641.8 21.05 662C21.002 682.2 20.94 705.7 20.9 720C20.86 734.3 20.844 736.1 20.81 747.6C20.776 759.1 20.736 775.2 20.696 789C20.656 802.8 20.615 816.3 20.57 830.6C20.525 844.9 20.473 860.1 20.425 874.8C20.377 889.5 20.332 904.3 20.28 919C20.228 933.7 20.168 949.2 20.115 963C20.062 976.8 20.016 988.2 19.96 1002C19.904 1015.8 19.842 1031.7 19.78 1046C19.718 1060.3 19.658 1072.8 19.59 1087.6C19.522 1102.4 19.45 1119.2 19.37 1134.6C19.29 1150 19.221 1163.3 19.108 1180C18.995 1196.7 18.791 1221.2 18.69 1235C18.589 1248.8 18.564 1253.5 18.5 1263C18.436 1272.5 18.36 1284.2 18.307 1292C18.254 1299.8 18.201 1307 18.18 1310L18.18 1326.4C18.164 1327.8 18.127 1331.3 18.086 1334.7C18.045 1338.1 17.959 1345 17.934 1347L17.907 1359L17.81 1362C17.796 1364.6 17.774 1372.4 17.727 1377.5C17.68 1382.6 17.59 1389.3 17.53 1392.7C17.47 1396.1 17.395 1397.1 17.368 1398L17.34 1406.5L17.257 1404L16.9 1403L16.76 1395.5L16.48 1395L16.43 1385.8C16.36 1384.4 16.148 1380.1 16.01 1377.5C15.872 1374.9 15.727 1372.2 15.6 1370C15.473 1367.8 15.447 1367.4 15.25 1364.5C15.053 1361.6 14.697 1356.2 14.42 1352.6C14.143 1349 13.867 1346.3 13.59 1343C13.313 1339.7 13.037 1335.8 12.76 1333C12.483 1330.2 12.206 1328.4 11.93 1326.4C11.654 1324.4 11.36 1322 11.105 1321C10.85 1320 10.828 1321.1 10.4 1320.6C9.973 1320.1 8.977 1318.5 8.54 1318C8.103 1317.5 7.907 1317.5 7.78 1317.4L7.75 1320.5L7.72 1316.6C7.627 1316.4 7.483 1316.2 7.16 1315.6C6.837 1315 6.198 1313.7 5.78 1312.8C5.362 1311.9 4.842 1310.8 4.654 1310.4"/>
<path transform="scale(1 100)" stroke-width="0.078" d="M465 12.897C472.3 12.888 494.8 12.866 509 12.842C523.2 12.818 536.7 12.777 550.5 12.752C564.3 12.727 578.2 12.707 592 12.69C605.8 12.673 619.6 12.659 633.4 12.649C647.2 12.639 661 12.637 674.8 12.628C688.6 12.619 705.3 12.605 716.2 12.598C727.1 12.591 726.2 12.596 740 12.586C753.8 12.576 779 12.561 799 12.54C819 12.519 845.5 12.483 860 12.46C874.5 12.437 877.2 12.426 885.8 12.403C894.4 12.38 902.9 12.353 911.5 12.32C920.1 12.287 928.7 12.25 937.3 12.203C945.9 12.156 954.4 12.102 963 12.036C971.6 11.969 981.3 11.879 988.8 11.804C996.3 11.729 1001.6 11.671 1008 11.585C1014.4 11.499 1022 11.379 1027.4 11.289C1032.8 11.199 1036 11.132 1040.3 11.044C1044.6 10.956 1048.9 10.861 1053.2 10.76C1057.5 10.659 1062.3 10.532 1066 10.439C1069.7 10.346 1072 10.307 1075.5 10.203C1079 10.099 1083.3 9.946 1087 9.817C1090.7 9.688 1094.8 9.52 1097.4 9.43C1100 9.34 1101.6 9.302 1102.4 9.276L1115.3 9.224C1116.4 9.19 1119.4 9.091 1121.8 9.018C1124.2 8.945 1126.5 8.857 1129.5 8.786C1132.5 8.715 1136.4 8.657 1139.8 8.593C1143.2 8.529 1147.1 8.465 1150 8.4C1152.9 8.335 1153.7 8.297 1157 8.2C1160.3 8.103 1165.7 7.945 1170 7.817C1174.3 7.689 1179.1 7.538 1182.7 7.43C1186.3 7.322 1188.7 7.256 1191.7 7.17C1194.7 7.084 1197.6 7 1200.8 6.915C1204 6.83 1207.9 6.723 1211 6.658C1214.1 6.593 1215.5 6.582 1219.6 6.525C1223.7 6.468 1230.3 6.375 1235.7 6.318C1241.1 6.26 1248 6.209 1251.8 6.18C1255.6 6.151 1257.5 6.151 1258.7 6.145L1261 6.04L1268 6.13L1277 6.076C1279.7 6.09 1284.5 6.117 1293 6.157C1301.5 6.197 1316.3 6.266 1327.8 6.318C1339.3 6.37 1348.6 6.41 1362 6.467C1375.4 6.524 1396.5 6.616 1408 6.66C1419.5 6.704 1427.2 6.718 1431 6.73C1434.8 6.757 1446.3 6.836 1454 6.89C1461.7 6.944 1469.3 7.005 1477 7.055C1484.7 7.105 1488.5 7.124 1500 7.19C1511.5 7.256 1530.7 7.372 1546 7.45C1561.3 7.528 1576.7 7.595 1592 7.656C1607.3 7.717 1622.7 7.771 1638 7.817C1653.3 7.863 1668.7 7.9 1684 7.93C1699.3 7.96 1714.7 7.984 1730 8C1745.3 8.016 1762.5 8.021 1776 8.024C1789.5 8.027 1799.3 8.031 1810.8 8.02C1822.3 8.008 1833.5 7.993 1845 7.955C1856.5 7.917 1868.3 7.863 1879.8 7.794C1891.3 7.725 1902.5 7.64 1914 7.54C1925.5 7.44 1937.4 7.321 1949 7.196C1960.6 7.071 1974.1 6.909 1983.4 6.79C1992.7 6.671 1996.4 6.625 2004.8 6.48C2013.2 6.335 2025.4 6.087 2033.6 5.92C2041.8 5.753 2048.1 5.6 2053.8 5.48C2059.5 5.36 2062.4 5.3 2067.7 5.2C2073 5.1 2079.6 4.989 2085.8 4.88C2092 4.771 2098.6 4.66 2105 4.546C2111.4 4.432 2119 4.292 2124.4 4.198C2129.8 4.104 2133 4.057 2137.3 3.98C2141.6 3.903 2147 3.794 2150 3.734C2153 3.674 2153.6 3.714 2155.3 3.618C2157.1 3.522 2159.6 3.236 2160.5 3.16L2159.5 3.65C2158.2 3.7 2154 3.865 2152 3.95C2150 4.035 2149 4.082 2147.6 4.16C2146.2 4.238 2145 4.331 2143.7 4.417C2142.4 4.503 2141 4.588 2139.9 4.674C2138.8 4.76 2138.2 4.855 2137.3 4.93C2136.4 5.005 2137.8 4.949 2134.7 5.125C2131.6 5.301 2123.9 5.737 2119 5.986C2114.1 6.235 2109.8 6.418 2105 6.62C2100.2 6.822 2094 7.057 2090 7.2C2086 7.343 2084.4 7.361 2081 7.476C2077.6 7.591 2073.6 7.752 2069.6 7.89C2065.6 8.028 2061.5 8.163 2057 8.306C2052.5 8.449 2047.3 8.601 2042.5 8.748C2037.7 8.895 2033.2 9.043 2028 9.19C2022.8 9.337 2016.8 9.492 2011.5 9.63C2006.2 9.768 2001.6 9.882 1996 10.02C1990.4 10.158 1984.2 10.317 1978 10.46C1971.8 10.603 1965.8 10.728 1959 10.876C1952.2 11.024 1945 11.192 1937 11.346C1929 11.5 1922.1 11.633 1910.8 11.8C1899.5 11.967 1879.1 12.212 1869 12.35C1858.9 12.488 1856.4 12.535 1850 12.63C1843.6 12.725 1836 12.842 1830.7 12.92C1825.4 12.998 1820.1 13.07 1818 13.1L1818 13.264C1816.4 13.278 1812.7 13.313 1808.6 13.347C1804.5 13.381 1795.9 13.45 1793.4 13.47L1790.7 13.59L1781 13.62C1779.6 13.646 1777.4 13.724 1772.7 13.775C1768 13.826 1759 13.893 1753 13.927C1747 13.961 1739.5 13.971 1736.8 13.98L1734 14.065L1725.7 14.04L1690 14.03L1676 13.955L1648 13.95L1643 13.858C1636 13.844 1614.8 13.801 1601 13.775C1587.2 13.749 1572.7 13.722 1560 13.7C1547.3 13.678 1544.7 13.674 1525 13.645C1505.3 13.616 1469.7 13.562 1442 13.526C1414.3 13.49 1386.7 13.463 1359 13.43C1331.3 13.397 1303.7 13.358 1276 13.33C1248.3 13.302 1220.6 13.284 1193 13.264C1165.4 13.244 1136 13.22 1110.5 13.21C1085 13.2 1082.8 13.211 1040 13.206C997.2 13.201 897.7 13.185 854 13.18C810.3 13.175 790.7 13.175 778 13.174L775 13.205L772 13.166C762.7 13.164 748.3 13.162 716 13.156C683.7 13.15 619.8 13.137 578 13.128C536.2 13.119 484.2 13.108 465.4 13.104"/>
</g>
<polygon stroke="none" fill="#c17ae2" points="1115,848 1121,820 1132.5,781.7 1146.7,743 1155.7,717 1167,691.5 1174,691.5 1165,717 1160,743 1148.3,781.7 1140.5,820 1135,818 1123.5,848"/>
<g stroke="#c17ae2">
<path transform="scale(100 1)" stroke-width="0.084" d="M4.65 1300.8C4.7 1300.1 4.832 1298.4 4.952 1296.6C5.071 1294.8 5.229 1292 5.367 1289.7C5.505 1287.4 5.643 1284.9 5.781 1282.8C5.919 1280.7 6.058 1278.7 6.196 1277.3C6.334 1275.9 6.472 1275.5 6.61 1274.5C6.748 1273.5 6.892 1272 7.024 1271C7.156 1270 7.262 1269.2 7.4 1268.3C7.538 1267.4 7.65 1267.8 7.85 1265.6C8.05 1263.4 8.432 1258 8.6 1255C8.768 1252 8.772 1250.1 8.858 1247.4C8.944 1244.7 9.029 1242.4 9.115 1239C9.201 1235.6 9.287 1231.4 9.373 1226.8C9.459 1222.2 9.544 1217.8 9.63 1211.3C9.716 1204.8 9.813 1195.5 9.888 1188C9.963 1180.5 10.016 1174.5 10.08 1166.2C10.144 1157.9 10.22 1146.5 10.274 1137.9C10.328 1129.3 10.36 1123.3 10.403 1114.7C10.446 1106.1 10.489 1096 10.532 1086.4C10.575 1076.8 10.612 1068 10.66 1057C10.708 1046 10.77 1032.8 10.818 1020.3C10.866 1007.8 10.908 994.6 10.947 981.7C10.986 968.8 11.022 953.7 11.05 943C11.078 932.3 11.091 925.9 11.114 917.3C11.137 908.7 11.164 900.1 11.19 891.5C11.216 882.9 11.246 874.4 11.27 865.8C11.294 857.2 11.31 847.6 11.333 840C11.355 832.4 11.38 829.7 11.405 820C11.43 810.3 11.45 794.5 11.483 781.7C11.515 768.9 11.572 753.8 11.6 743C11.628 732.2 11.629 725.6 11.65 717C11.671 708.4 11.691 699.7 11.724 691.5C11.757 683.3 11.807 673.9 11.85 668C11.893 662.1 11.945 659 11.98 656C12.014 653 12.021 651.9 12.057 650C12.093 648.1 12.146 645.4 12.196 644.5C12.246 643.6 12.303 643.6 12.357 644.5C12.411 645.4 12.461 647.1 12.518 650C12.575 652.9 12.631 656.7 12.7 661.7C12.769 666.7 12.834 672 12.93 680C13.026 688 13.163 700 13.278 710C13.393 720 13.505 730.2 13.62 740C13.735 749.8 13.866 760.7 13.968 768.5C14.07 776.3 14.145 781.4 14.23 786.9C14.315 792.4 14.394 797 14.476 801.6C14.558 806.2 14.64 810.3 14.722 814.4C14.804 818.5 14.886 822.3 14.968 826C15.05 829.7 15.132 833.3 15.214 836.8C15.296 840.3 15.342 842.2 15.46 847C15.578 851.8 15.767 860.5 15.92 865.7C16.073 870.9 16.227 875.2 16.38 878.4C16.533 881.6 16.687 883.4 16.84 885C16.993 886.6 17.185 887.5 17.3 888C17.415 888.5 17.434 888.8 17.53 888C17.626 887.2 17.763 886.2 17.878 883C17.993 879.8 18.105 875.2 18.22 869C18.335 862.8 18.453 855.6 18.568 846C18.683 836.4 18.795 825 18.91 811.6C19.025 798.2 19.144 781.7 19.259 765.6C19.374 749.5 19.504 728.8 19.6 715C19.696 701.2 19.75 694.4 19.834 682.7C19.918 671 20.022 658.8 20.106 644.7C20.19 630.6 20.264 612.8 20.336 598C20.408 583.2 20.466 569 20.538 556C20.61 543 20.692 532.6 20.767 520C20.842 507.4 20.917 492.7 20.986 480.3C21.055 467.9 21.116 456.9 21.18 445.5C21.244 434.1 21.32 421.6 21.373 412C21.426 402.4 21.461 395.3 21.5 387.6C21.539 379.9 21.587 369.6 21.605 366C21.604 368.3 21.607 371.7 21.6 380C21.593 388.3 21.578 405.7 21.566 416C21.554 426.3 21.54 433.1 21.527 441.7C21.514 450.3 21.5 458.8 21.489 467.4C21.478 475.9 21.471 484.2 21.463 493C21.456 501.8 21.456 508.8 21.444 520C21.432 531.2 21.411 546.9 21.39 560C21.369 573.1 21.356 581.6 21.32 598.6C21.284 615.6 21.226 641.8 21.177 662C21.128 682.2 21.068 705.7 21.027 720C20.986 734.3 20.964 736.1 20.93 747.6C20.896 759.1 20.857 775.2 20.82 789C20.783 802.8 20.749 816.3 20.71 830.6C20.671 844.9 20.627 860.1 20.585 874.8C20.543 889.5 20.504 904.3 20.46 919C20.416 933.7 20.366 949.2 20.32 963C20.274 976.8 20.232 988.2 20.184 1002C20.136 1015.8 20.086 1031.7 20.03 1046C19.974 1060.3 19.914 1072.8 19.85 1087.6C19.786 1102.4 19.723 1119.2 19.645 1134.6C19.567 1150 19.461 1167.8 19.385 1180C19.309 1192.2 19.268 1196.1 19.19 1207.6C19.112 1219.1 18.998 1236.8 18.915 1249C18.832 1261.2 18.759 1270.7 18.69 1280.8C18.621 1290.9 18.564 1300.1 18.5 1309.8C18.436 1319.5 18.355 1331.4 18.307 1338.8C18.259 1346.2 18.226 1351.5 18.21 1354L18.197 1370.6C18.178 1372 18.128 1375.8 18.086 1379C18.044 1382.2 17.971 1388.2 17.948 1390L17.92 1403.7L17.81 1406.5C17.796 1409 17.774 1417.5 17.727 1421.7C17.68 1425.9 17.588 1429.1 17.53 1431.4C17.472 1433.7 17.405 1434.8 17.38 1435.5L17.368 1445L17.257 1446.6L16.9 1445.7L16.76 1438L16.48 1434L16.43 1424.5C16.36 1422.7 16.148 1417.2 16.01 1413.4C15.872 1409.7 15.727 1405.2 15.6 1402C15.473 1398.8 15.447 1397.9 15.25 1394.5C15.053 1391.1 14.697 1385.7 14.42 1381.7C14.143 1377.7 13.867 1374 13.59 1370.6C13.313 1367.1 13.037 1364 12.76 1361C12.483 1358 12.206 1355.1 11.93 1352.6C11.654 1350 11.36 1347.5 11.105 1345.7C10.85 1343.9 10.584 1342.6 10.4 1341.6C10.216 1340.6 10.217 1341.4 10 1339.7C9.783 1338 9.369 1333.4 9.096 1331.4C8.823 1329.4 8.498 1328.6 8.36 1327.8C8.222 1327 8.32 1326.8 8.267 1326.4C8.214 1326 8.078 1325.7 8.04 1325.5L8 1323.4L7.83 1323.4L7.79 1325.7L7.64 1326L7.6 1328L7.5 1328L7.46 1325.8C7.364 1325.7 7.166 1325.8 6.886 1325C6.606 1324.2 6.152 1322.3 5.78 1320.9C5.408 1319.5 4.842 1317.4 4.654 1316.7"/>
<path transform="scale(1 100)" stroke-width="0.078" d="M465 13.008C470 13.001 483.2 12.984 495.2 12.966C507.1 12.947 522.9 12.92 536.7 12.897C550.5 12.874 564.3 12.849 578.1 12.828C591.9 12.807 605.8 12.787 619.6 12.773C633.4 12.759 647.2 12.755 661 12.745C674.8 12.735 689.2 12.72 702.4 12.71C715.6 12.7 726.2 12.692 740 12.683C753.8 12.674 765 12.678 785 12.656C805 12.634 843.2 12.58 860 12.55C876.8 12.52 877.2 12.501 885.8 12.474C894.4 12.447 902.9 12.424 911.5 12.39C920.1 12.356 928.7 12.314 937.3 12.268C945.9 12.222 954.4 12.178 963 12.113C971.6 12.048 981.3 11.955 988.8 11.88C996.3 11.805 1001.6 11.745 1008 11.662C1014.4 11.579 1022 11.465 1027.4 11.379C1032.8 11.293 1036 11.233 1040.3 11.147C1044.6 11.061 1048.9 10.96 1053.2 10.864C1057.5 10.768 1061.2 10.68 1066 10.57C1070.8 10.46 1077 10.328 1081.8 10.203C1086.6 10.078 1090.8 9.946 1094.7 9.817C1098.6 9.688 1102.2 9.537 1105 9.43C1107.8 9.323 1109.1 9.259 1111.4 9.173C1113.7 9.087 1116.4 9.001 1119 8.915C1121.6 8.829 1124.6 8.744 1127 8.658C1129.4 8.572 1131 8.476 1133.3 8.4C1135.5 8.324 1138 8.297 1140.5 8.2C1143 8.103 1145 7.945 1148.3 7.817C1151.5 7.689 1157.2 7.538 1160 7.43C1162.8 7.322 1162.9 7.256 1165 7.17C1167.1 7.084 1169.1 6.997 1172.4 6.915C1175.7 6.833 1180.7 6.739 1185 6.68C1189.3 6.621 1194.5 6.59 1198 6.56C1201.5 6.53 1202.1 6.519 1205.7 6.5C1209.3 6.481 1214.6 6.454 1219.6 6.445C1224.6 6.436 1230.3 6.436 1235.7 6.445C1241.1 6.454 1246.1 6.471 1251.8 6.5C1257.5 6.529 1263.1 6.567 1270 6.617C1276.9 6.667 1283.4 6.72 1293 6.8C1302.6 6.88 1316.3 7 1327.8 7.1C1339.3 7.2 1350.5 7.303 1362 7.4C1373.5 7.497 1386.6 7.607 1396.8 7.685C1407 7.763 1414.5 7.814 1423 7.869C1431.5 7.924 1439.4 7.97 1447.6 8.016C1455.8 8.062 1464 8.103 1472.2 8.144C1480.4 8.185 1488.6 8.223 1496.8 8.26C1505 8.297 1513.2 8.333 1521.4 8.368C1529.6 8.403 1534.2 8.422 1546 8.47C1557.8 8.518 1576.7 8.605 1592 8.657C1607.3 8.709 1622.7 8.752 1638 8.784C1653.3 8.816 1668.7 8.834 1684 8.85C1699.3 8.866 1718.5 8.875 1730 8.88C1741.5 8.885 1743.4 8.888 1753 8.88C1762.6 8.872 1776.3 8.862 1787.8 8.83C1799.3 8.798 1810.5 8.752 1822 8.69C1833.5 8.628 1845.3 8.556 1856.8 8.46C1868.3 8.364 1879.5 8.25 1891 8.116C1902.5 7.982 1914.4 7.817 1925.9 7.656C1937.4 7.495 1950.4 7.288 1960 7.15C1969.6 7.012 1975 6.944 1983.4 6.827C1991.8 6.71 2002.2 6.588 2010.6 6.447C2019 6.306 2026.4 6.128 2033.6 5.98C2040.8 5.832 2046.6 5.69 2053.8 5.56C2061 5.43 2069.2 5.326 2076.7 5.2C2084.2 5.074 2091.7 4.927 2098.6 4.803C2105.5 4.679 2111.6 4.569 2118 4.455C2124.4 4.341 2132 4.216 2137.3 4.12C2142.6 4.024 2146.1 3.953 2150 3.876C2153.9 3.799 2158.8 3.696 2160.5 3.66C2160.4 3.683 2160.7 3.717 2160 3.8C2159.3 3.883 2157.8 4.057 2156.6 4.16C2155.4 4.263 2154 4.331 2152.7 4.417C2151.4 4.503 2150 4.588 2148.9 4.674C2147.8 4.76 2147.1 4.842 2146.3 4.93C2145.6 5.018 2145.6 5.088 2144.4 5.2C2143.2 5.312 2141.1 5.469 2139 5.6C2136.9 5.731 2135.6 5.816 2132 5.986C2128.4 6.156 2122.6 6.418 2117.7 6.62C2112.8 6.822 2106.8 7.057 2102.7 7.2C2098.6 7.343 2096.4 7.361 2093 7.476C2089.6 7.591 2085.7 7.752 2082 7.89C2078.3 8.028 2074.9 8.163 2071 8.306C2067.1 8.449 2062.7 8.601 2058.5 8.748C2054.3 8.895 2050.4 9.043 2046 9.19C2041.6 9.337 2036.6 9.492 2032 9.63C2027.4 9.768 2023.2 9.882 2018.4 10.02C2013.6 10.158 2008.6 10.317 2003 10.46C1997.4 10.603 1991.4 10.728 1985 10.876C1978.6 11.024 1972.2 11.192 1964.5 11.346C1956.8 11.5 1946.1 11.678 1938.5 11.8C1930.9 11.922 1926.8 11.961 1919 12.076C1911.2 12.191 1899.8 12.368 1891.5 12.49C1883.2 12.612 1875.9 12.707 1869 12.808C1862.1 12.909 1856.4 13.001 1850 13.098C1843.6 13.195 1835.5 13.314 1830.7 13.388C1825.9 13.462 1822.6 13.515 1821 13.54L1819.7 13.706C1817.8 13.72 1812.8 13.758 1808.6 13.79C1804.4 13.822 1797.1 13.882 1794.8 13.9L1792 14.037L1781 14.065C1779.6 14.09 1777.4 14.175 1772.7 14.217C1768 14.259 1758.8 14.291 1753 14.314C1747.2 14.337 1740.5 14.348 1738 14.355L1736.8 14.45L1725.7 14.466L1690 14.457L1676 14.38L1648 14.34L1643 14.245C1636 14.227 1614.8 14.172 1601 14.134C1587.2 14.097 1572.7 14.052 1560 14.02C1547.3 13.988 1544.7 13.979 1525 13.945C1505.3 13.911 1469.7 13.857 1442 13.817C1414.3 13.777 1386.7 13.74 1359 13.706C1331.3 13.671 1303.7 13.64 1276 13.61C1248.3 13.58 1220.6 13.551 1193 13.526C1165.4 13.5 1136 13.475 1110.5 13.457C1085 13.439 1058.4 13.426 1040 13.416C1021.6 13.406 1021.7 13.414 1000 13.397C978.3 13.38 936.9 13.334 909.6 13.314C882.3 13.294 849.8 13.286 836 13.278C822.2 13.27 832 13.268 826.7 13.264C821.4 13.26 807.8 13.257 804 13.255L800 13.234L783 13.234L779 13.257L764 13.26L760 13.28L750 13.28L746 13.258C736.4 13.257 716.6 13.258 688.6 13.25C660.6 13.242 615.2 13.223 578 13.209C540.8 13.195 484.2 13.174 465.4 13.167"/>
</g>
</g>
<rect x="258" y="31" width="2.5" height="1580" fill="#c4c4c4"/>
<rect x="258" y="1608" width="2113" height="3" fill="#b8b8b8"/>
<rect x="2369" y="31" width="2" height="1580" fill="#e2e2e2"/>
<g fill="#000">
<rect x="252" y="26" width="2125" height="5"/>
<rect x="252" y="1611" width="2125" height="5"/>
<rect x="252" y="26" width="6" height="1590"/>
<rect x="2371" y="26" width="6" height="1590"/>
<rect x="257" y="236" width="31" height="5.4"/>
<rect x="257" y="765.2" width="31" height="5.4"/>
<rect x="257" y="1293.6" width="31" height="5.4"/>
<rect x="257" y="501" width="14.5" height="5.4"/>
<rect x="257" y="1029.4" width="14.5" height="5.4"/>
<rect x="257" y="1557.8" width="14.5" height="5.4"/>
<rect x="465.1" y="1581.5" width="5.6" height="30"/>
<rect x="1311.9" y="1581.5" width="5.6" height="30"/>
<rect x="2158.7" y="1581.5" width="5.6" height="30"/>
<rect x="888.5" y="1597.5" width="5.6" height="14"/>
<rect x="1735.3" y="1597.5" width="5.6" height="14"/>
</g>
<rect x="258" y="241.3" width="30" height="2.6" fill="#383838"/>
<rect x="462.5" y="1581.5" width="2.6" height="27" fill="#9a9a9a"/>
<rect x="1309.3" y="1581.5" width="2.6" height="27" fill="#9a9a9a"/>
<rect x="2156.1" y="1581.5" width="2.6" height="27" fill="#9a9a9a"/>
<text transform="translate(219.5 266) scale(1.07 1)" font-size="91" text-anchor="end">10</text>
<text transform="translate(216.5 794.4) scale(1.07 1)" font-size="91" text-anchor="end">5</text>
<text transform="translate(219.5 1322.8) scale(1.07 1)" font-size="91" text-anchor="end">0</text>
<text transform="translate(467.7 1715.7) scale(1.07 1)" font-size="91" text-anchor="middle">0.0</text>
<text transform="translate(1314.5 1715.7) scale(1.07 1)" font-size="91" text-anchor="middle">0.4</text>
<text transform="translate(2161.3 1715.7) scale(1.07 1)" font-size="91" text-anchor="middle">0.8</text>
<rect x="438.5" y="205.9" width="223" height="8.2" fill="#505050"/>
<rect x="661" y="208.5" width="3" height="3" fill="#505050"/>
<text transform="translate(682.8 240.3) scale(1.07 1)" font-size="91" text-anchor="start">0.10 M</text>
<rect x="438.5" y="317.2" width="223" height="8.2" fill="#fb3d3f"/>
<rect x="661" y="319.8" width="3" height="3" fill="#fb3d3f"/>
<text transform="translate(682.8 351.6) scale(1.07 1)" font-size="91" text-anchor="start">0.05 M</text>
<rect x="438.5" y="428.4" width="223" height="8.2" fill="#056ce1"/>
<rect x="661" y="431" width="3" height="3" fill="#056ce1"/>
<text transform="translate(682.8 462.8) scale(1.07 1)" font-size="91" text-anchor="start">0.15 M</text>
<rect x="438.5" y="538.9" width="223" height="8.2" fill="#07ae68"/>
<rect x="661" y="541.5" width="3" height="3" fill="#07ae68"/>
<text transform="translate(682.8 573.3) scale(1.07 1)" font-size="91" text-anchor="start">0.01 M</text>
<rect x="438.5" y="649.9" width="223" height="8.2" fill="#c17ae2"/>
<rect x="661" y="652.5" width="3" height="3" fill="#c17ae2"/>
<text transform="translate(682.8 684.3) scale(1.07 1)" font-size="91" text-anchor="start">0.20 M</text>
<text transform="translate(1314.2 1863.7) scale(1.07 1)" font-size="91" text-anchor="middle">Potential/V</text>
<text transform="translate(83.8 821.5) scale(1.11 1) rotate(-90)" font-size="90" text-anchor="middle">Current/1e-4A</text>
</svg></body></html>
